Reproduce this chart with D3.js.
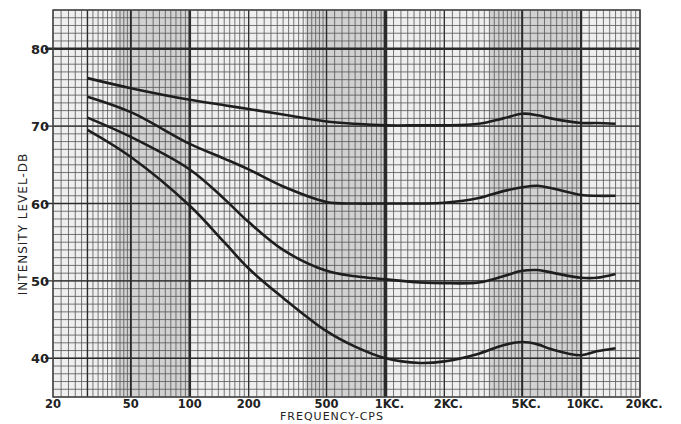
<!DOCTYPE html>
<html>
<head>
<meta charset="utf-8">
<script src="https://cdn.jsdelivr.net/npm/d3@7"></script>
<style>
  body { margin: 0; background: #fff; }
  text { font-family: "DejaVu Sans", sans-serif; fill: #222; }
</style>
</head>
<body>
<svg id="svg1" width="681" height="424"></svg>
<script>
// values
const freqs = [30, 50, 100, 150, 200, 300, 500, 700, 1000, 1500, 2000, 3000, 4000, 5000, 6000, 7000, 10000, 12000, 15000];
const curve70 = [76.2, 74.9, 73.4, 72.7, 72.2, 71.5, 70.6, 70.3, 70.1, 70.1, 70.1, 70.3, 71.0, 71.6, 71.4, 71.0, 70.4, 70.4, 70.3];
const curve60 = [73.8, 71.8, 67.7, 65.8, 64.4, 62.2, 60.2, 60.0, 60.0, 60.0, 60.1, 60.7, 61.6, 62.1, 62.3, 62.0, 61.1, 61.0, 61.0];
const curve50 = [71.1, 68.6, 64.4, 60.6, 57.6, 54.0, 51.3, 50.6, 50.2, 49.8, 49.7, 49.8, 50.6, 51.3, 51.4, 51.1, 50.4, 50.4, 50.9];
const curve40 = [69.5, 66.0, 59.7, 55.0, 51.6, 47.8, 43.5, 41.5, 40.0, 39.4, 39.6, 40.6, 41.7, 42.1, 41.8, 41.2, 40.4, 40.9, 41.3];

const xTicks = [20, 50, 100, 200, 500, 1000, 2000, 5000, 10000, 20000];
const xTickLabels = ["20", "50", "100", "200", "500", "1KC.", "2KC.", "5KC.", "10KC.", "20KC."];
const yTicks = [40, 50, 60, 70, 80];
// darker printed bands on the paper
const bandsLo = [42, 390, 3400];
const bandsHi = [100, 1000, 10000];

const pLeft = 53, pRight = 640, pTop = 10, pBottom = 397;
var x = d3.scaleLog().domain([20, 20000]).range([pLeft, pRight]);
var y = d3.scaleLinear().domain([35, 85]).range([pBottom, pTop]);

const svg = d3.select('#svg1');

svg.append('rect')
    .attr('x', pLeft).attr('y', pTop)
    .attr('width', pRight - pLeft).attr('height', pBottom - pTop)
    .attr('fill', '#efefef');

svg.append('g').selectAll('rect').data(bandsLo).enter().append('rect')
    .attr('x', function(d) { return x(d) })
    .attr('y', pTop)
    .attr('width', function(d, i) { return x(bandsHi[i]) - x(d) })
    .attr('height', pBottom - pTop)
    .attr('fill', '#bdbdbd')
    .attr('opacity', 0.6);

// log paper verticals
var vlines = [];
[10, 100, 1000, 10000].forEach(function(dec) {
    for (var m = 1; m < 10; m += (m < 2 ? 0.1 : m < 5 ? 0.2 : 0.5)) {
        var f = Math.round(m * 10) / 10 * dec;
        if (f >= 20 && f <= 20000) vlines.push(f);
    }
});
vlines.push(20000);

svg.append('g').selectAll('line').data(vlines).enter().append('line')
    .attr('x1', function(d) { return x(d) }).attr('x2', function(d) { return x(d) })
    .attr('y1', pTop).attr('y2', pBottom)
    .attr('stroke', '#555')
    .attr('stroke-width', 0.8);

// horizontals every dB
svg.append('g').selectAll('line').data(d3.range(35, 86, 1)).enter().append('line')
    .attr('x1', pLeft).attr('x2', pRight)
    .attr('y1', function(d) { return y(d) }).attr('y2', function(d) { return y(d) })
    .attr('stroke', '#555')
    .attr('stroke-width', 0.8);

// heavier rulings
const heavyX = [30, 50, 100, 200, 500, 1000, 2000, 5000, 10000];
const heavyW = [1.4, 1.8, 2.6, 1.2, 1.4, 3.6, 1.2, 2, 2.2];
svg.append('g').selectAll('line').data(heavyX).enter().append('line')
    .attr('x1', function(d) { return x(d) }).attr('x2', function(d) { return x(d) })
    .attr('y1', pTop).attr('y2', pBottom)
    .attr('stroke', '#2a2a2a')
    .attr('stroke-width', function(d, i) { return heavyW[i] });

svg.append('g').selectAll('line').data(yTicks).enter().append('line')
    .attr('x1', pLeft - 8).attr('x2', pRight)
    .attr('y1', function(d) { return y(d) }).attr('y2', function(d) { return y(d) })
    .attr('stroke', '#2a2a2a')
    .attr('stroke-width', function(d) { return d == 80 ? 2.4 : 1.4 });

svg.append('rect')
    .attr('x', pLeft).attr('y', pTop)
    .attr('width', pRight - pLeft).attr('height', pBottom - pTop)
    .attr('fill', 'none')
    .attr('stroke', '#444')
    .attr('stroke-width', 1.5);

// the four curves
var line = d3.line()
    .x(function(d) { return x(d[0]) })
    .y(function(d) { return y(d[1]) })
    .curve(d3.curveCatmullRom.alpha(0.5));

[curve70, curve60, curve50, curve40].forEach(function(c) {
    svg.append('path')
        .datum(freqs.map(function(f, i) { return [f, c[i]] }))
        .attr('d', line)
        .attr('fill', 'none')
        .attr('stroke', '#1e1e1e')
        .attr('stroke-width', 2.6);
});

// labels
svg.append('g').selectAll('text').data(yTicks).enter().append('text')
    .attr('x', pLeft - 4)
    .attr('y', function(d) { return y(d) + 5 })
    .attr('text-anchor', 'end')
    .attr('font-size', 13)
    .attr('font-weight', 'bold')
    .text(function(d) { return d });

svg.append('g').selectAll('text').data(xTicks).enter().append('text')
    .attr('x', function(d) { return x(d) + (d >= 1000 ? 4 : 0) })
    .attr('y', 408)
    .attr('text-anchor', 'middle')
    .attr('font-size', 11.5)
    .attr('font-weight', 'bold')
    .text(function(d, i) { return xTickLabels[i] });

svg.append('text')
    .attr('x', 332).attr('y', 420)
    .attr('text-anchor', 'middle')
    .attr('font-size', 11)
    .attr('letter-spacing', 1)
    .text('FREQUENCY-CPS');

svg.append('text')
    .attr('transform', 'translate(27,224) rotate(-90)')
    .attr('text-anchor', 'middle')
    .attr('font-size', 12)
    .attr('letter-spacing', 1)
    .text('INTENSITY LEVEL-DB');
</script>
</body>
</html>
